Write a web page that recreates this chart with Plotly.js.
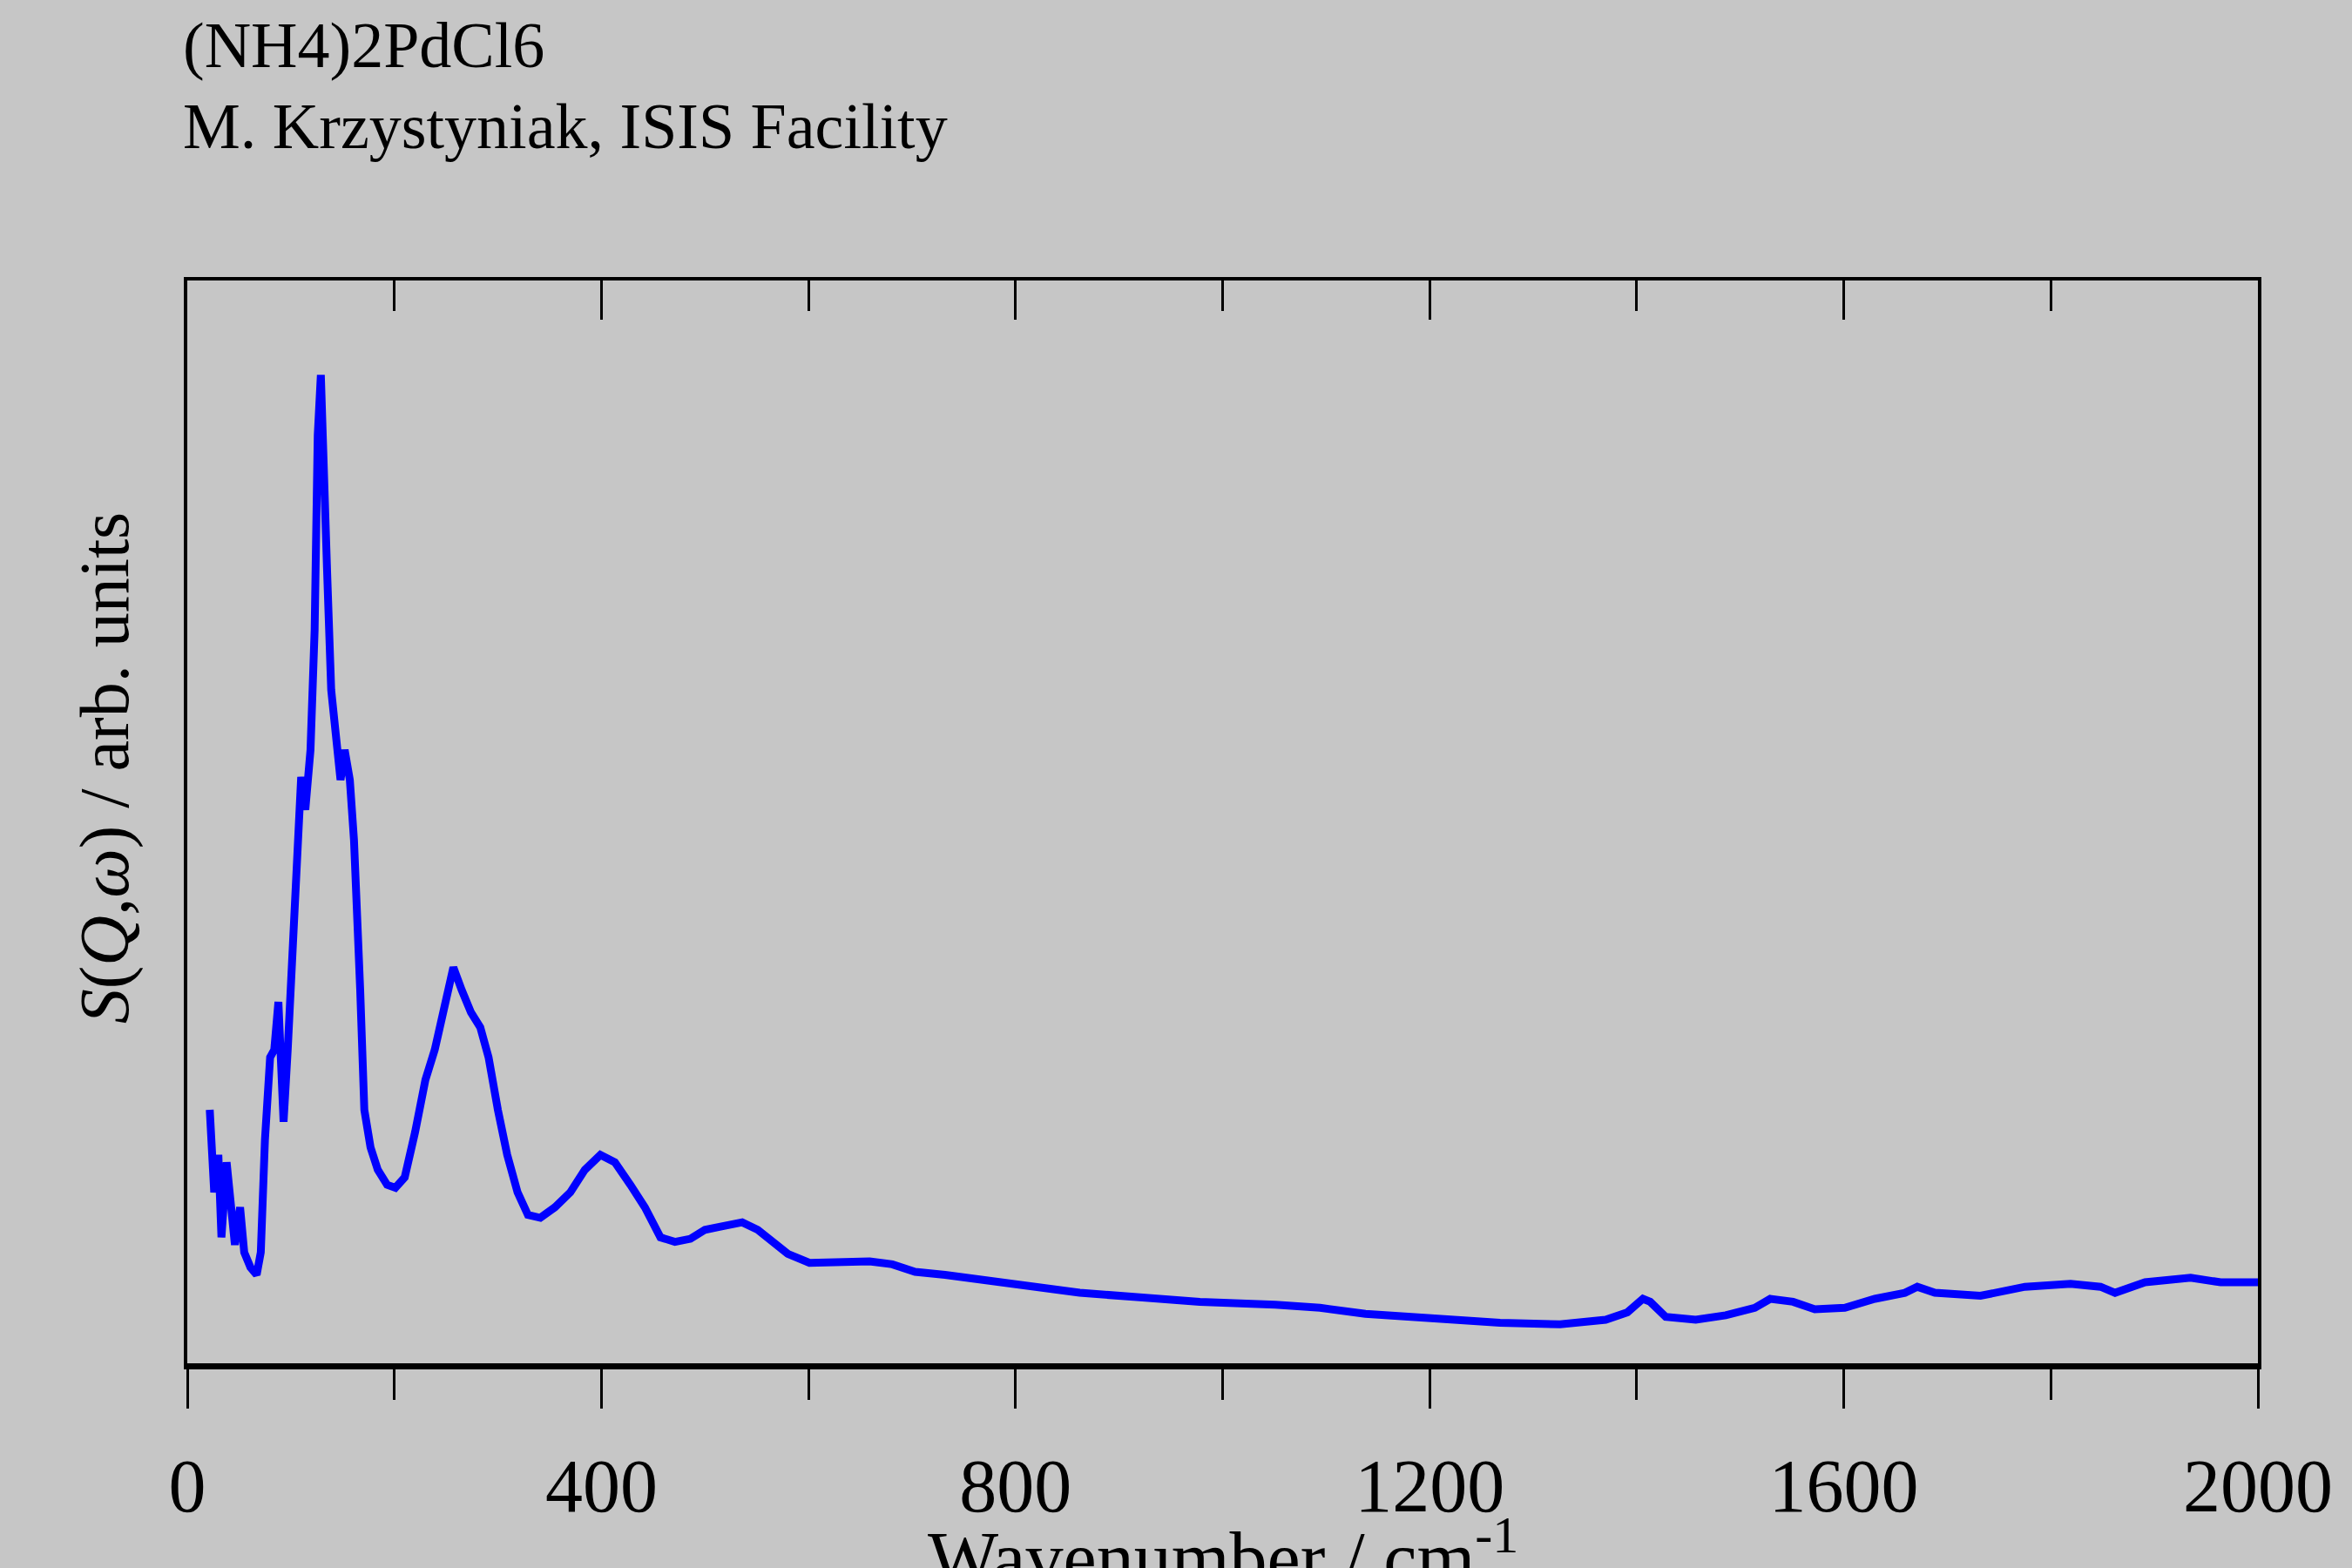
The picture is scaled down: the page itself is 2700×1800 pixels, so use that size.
<!DOCTYPE html>
<html><head><meta charset="utf-8">
<script src="https://cdn.plot.ly/plotly-3.0.1.min.js"></script>
<style>html,body{margin:0;padding:0;background:#c6c6c6;}</style>
</head><body>
<div id="c" style="width:2700px;height:1800px;"></div>
<script>
const wavenumber = [21.7,26,30,33,38,42,46,51,55,61,67,71,75,80,84,88,93,97,101,107,110,114,119,123,126,129,132,135,139,143,148,152,157,161,164,167,171,177,184,193,201,210,220,230,239,248,257,265,274,283,291,300,309,319,329,341,355,370,384,399,413,428,442,457,471,486,500,514,536,551,565,580,601,630,659,681,703,732,775,819,862,920,978,1051,1094,1138,1196,1268,1326,1370,1391,1406,1413,1428,1457,1486,1514,1529,1551,1572,1601,1630,1659,1671,1688,1732,1775,1819,1848,1862,1891,1935,1964,2000];
const intensity = [169,114,139,84,134,109,79,104,74,64,59,74,149,204,209,241,161,209,269,364,391,369,409,489,619,659,609,529,449,419,389,409,389,349,309,249,169,144,129,119,117,124,154,189,209,239,264,249,234,224,204,169,139,114,99,97,104,114,129,139,134,119,104,84,81,83,89,91,94,89,81,73,67,67,68,66,61,59,55,51,47,44,41,39,37,33,30,27,26,29,34,43,41,31,29,32,37,43,41,36,37,43,47,51,47,45,51,53,51,47,54,57,54,54];
const xTickVals = [0,400,800,1200,1600,2000];
const xTickText = ['0','400','800','1200','1600','2000'];
const font = 'Liberation Serif, Times New Roman, serif';
const trace = {x: wavenumber, y: intensity, type:'scatter', mode:'lines',
  line:{color:'#0000ff', width:9, shape:'linear'}, hoverinfo:'none', showlegend:false};
const layout = {
  width:2700, height:1800,
  paper_bgcolor:'#c6c6c6', plot_bgcolor:'#c6c6c6',
  margin:{l:215, r:108, t:322, b:235},
  font:{family:font, color:'black'},
  xaxis:{range:[0,2000], tickvals:xTickVals, ticktext:xTickText, ticks:'outside', ticklen:45, tickwidth:3,
    tickcolor:'black', showline:true, linewidth:7, linecolor:'black', showgrid:false, zeroline:false,
    tickfont:{size:86, family:font}, ticklabelstandoff:15,
    minor:{dtick:200, tick0:0, ticks:'outside', ticklen:35, tickwidth:3, tickcolor:'black', showgrid:false}},
  xaxis2:{range:[0,2000], overlaying:'x', side:'top', tickvals:xTickVals, showticklabels:false, ticks:'inside',
    ticklen:45, tickwidth:3, tickcolor:'black', showline:true, linewidth:4, linecolor:'black', showgrid:false, zeroline:false,
    minor:{dtick:200, tick0:0, ticks:'inside', ticklen:35, tickwidth:3, tickcolor:'black', showgrid:false}},
  yaxis:{range:[0,722], showticklabels:false, ticks:'', showline:true, mirror:true, linewidth:4, linecolor:'black',
    showgrid:false, zeroline:false},
  annotations:[
    {text:'(NH4)2PdCl6', xref:'paper', yref:'paper', x:-0.003, y:1.217, xanchor:'left', yanchor:'middle', showarrow:false, font:{size:74, family:font}},
    {text:'M. Krzystyniak, ISIS Facility', xref:'paper', yref:'paper', x:-0.003, y:1.142, xanchor:'left', yanchor:'middle', showarrow:false, font:{size:74, family:font}},
    {text:'<i>S</i>(<i>Q</i>,<i>ω</i>) / arb. units', xref:'paper', yref:'paper', x:-0.04, y:0.55, textangle:-90, xanchor:'center', yanchor:'middle', showarrow:false, font:{size:80, family:font}},
    {text:'Wavenumber / cm<sup>-1</sup>', xref:'paper', yref:'paper', x:0.5, y:-0.175, xanchor:'center', yanchor:'middle', showarrow:false, font:{size:86, family:font}}
  ]
};
const dummy = {x:[0,2000], y:[null,null], xaxis:'x2', yaxis:'y', type:'scatter', mode:'lines', showlegend:false, hoverinfo:'none'};
Plotly.newPlot('c', [trace, dummy], layout, {staticPlot:true});
</script>
</body></html>
